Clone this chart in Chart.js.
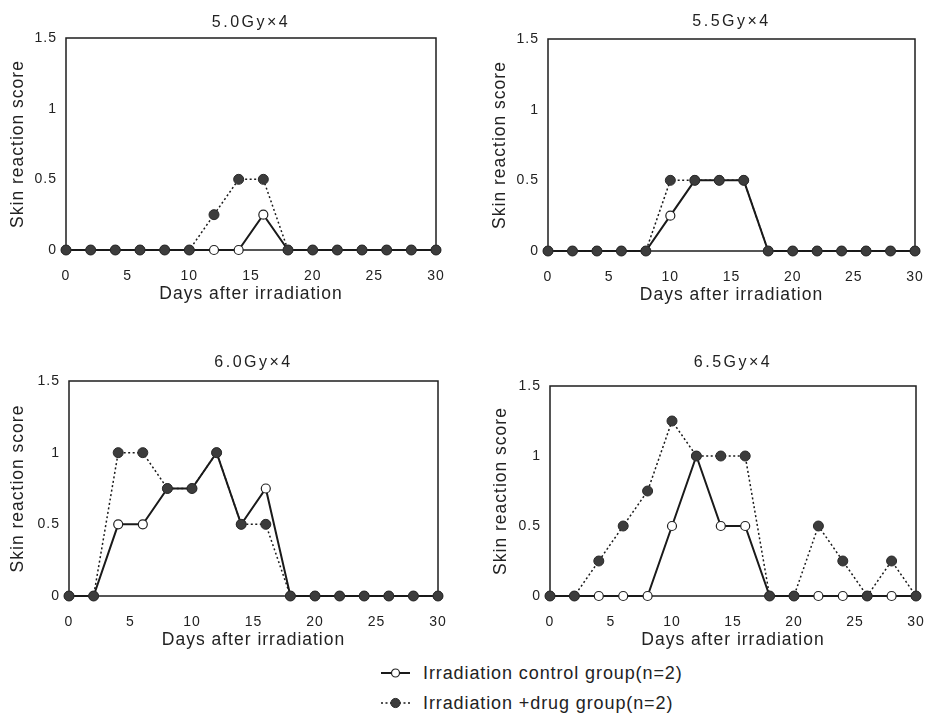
<!DOCTYPE html>
<html>
<head>
<meta charset="utf-8">
<script src="https://cdn.jsdelivr.net/npm/chart.js@4.4.1/dist/chart.umd.min.js"></script>
<style>
body{margin:0;background:#fff;width:926px;height:714px;position:relative;overflow:hidden;font-family:"Liberation Sans",Arial,sans-serif;}
canvas{position:absolute;}
#legend{position:absolute;left:381px;top:658px;font-size:18px;letter-spacing:0.9px;color:#222;}
.row{height:30px;display:flex;align-items:center;white-space:nowrap;}
.row svg{margin-right:13px;}
</style>
</head>
<body>
<canvas id="c0" width="463" height="310" style="left:0;top:0"></canvas>
<canvas id="c1" width="463" height="311" style="left:463px;top:0"></canvas>
<canvas id="c2" width="463" height="336" style="left:0;top:320px"></canvas>
<canvas id="c3" width="463" height="336" style="left:463px;top:320px"></canvas>

<div id="legend">
  <div class="row">
    <svg width="29" height="12"><line x1="0" y1="6" x2="29" y2="6" stroke="#1a1a1a" stroke-width="2"/><circle cx="14.5" cy="6" r="4" fill="#fff" stroke="#222" stroke-width="1.2"/></svg>
    <span>Irradiation control group(n=2)</span>
  </div>
  <div class="row">
    <svg width="29" height="12"><line x1="0" y1="6" x2="29" y2="6" stroke="#1a1a1a" stroke-width="1.5" stroke-dasharray="2,2.5"/><circle cx="14.5" cy="6" r="4.6" fill="#3c3c3c" stroke="#2a2a2a" stroke-width="1"/></svg>
    <span>Irradiation +drug group(n=2)</span>
  </div>
</div>

<script>
var days = [0,2,4,6,8,10,12,14,16,18,20,22,24,26,28,30];
var titles = ['5.0Gy\u00d74','5.5Gy\u00d74','6.0Gy\u00d74','6.5Gy\u00d74'];

var control50 = [0,0,0,0,0,0,0,0,0.25,0,0,0,0,0,0,0];
var drug50    = [0,0,0,0,0,0,0.25,0.5,0.5,0,0,0,0,0,0,0];
var control55 = [0,0,0,0,0,0.25,0.5,0.5,0.5,0,0,0,0,0,0,0];
var drug55    = [0,0,0,0,0,0.5,0.5,0.5,0.5,0,0,0,0,0,0,0];
var control60 = [0,0,0.5,0.5,0.75,0.75,1,0.5,0.75,0,0,0,0,0,0,0];
var drug60    = [0,0,1,1,0.75,0.75,1,0.5,0.5,0,0,0,0,0,0,0];
var control65 = [0,0,0,0,0,0.5,1,0.5,0.5,0,0,0,0,0,0,0];
var drug65    = [0,0,0.25,0.5,0.75,1.25,1,1,1,0,0,0.5,0.25,0,0.25,0];

var yTicks = [0,0.5,1,1.5];
var xTicks = [0,5,10,15,20,25,30];

var textColor = '#222';

// box around plot + panel title over plot area
var framePlugin = {
    id: 'frame',
    beforeDraw: function(chart){
        chart.ctx.letterSpacing = '1px';
    },
    beforeDatasetsDraw: function(chart){
        var a = chart.chartArea, ctx = chart.ctx;
        ctx.save();
        ctx.strokeStyle = '#1e1e1e';
        ctx.lineWidth = 1.5;
        ctx.strokeRect(a.left, a.top, a.right - a.left, a.bottom - a.top);
        ctx.restore();
    },
    afterDraw: function(chart){
        var a = chart.chartArea, ctx = chart.ctx;
        var o = chart.options.plugins.frame;
        ctx.save();
        ctx.letterSpacing = '2.5px';
        ctx.font = '16px "Liberation Sans", Arial, sans-serif';
        ctx.fillStyle = textColor;
        ctx.textAlign = 'center';
        ctx.textBaseline = 'middle';
        ctx.fillText(o.title, (a.left + a.right) / 2, a.top - o.titleGap);
        ctx.restore();
    }
};

function toPoints(vals){
    return days.map(function(d, i){ return {x: d, y: vals[i]}; });
}

function makeChart(id, title, control, drug, g){
    var ctx = document.getElementById(id);
    return new Chart(ctx, {
        type: 'line',
        data: {
            datasets: [{
                label: 'Irradiation +drug group(n=2)',
                data: toPoints(drug),
                order: 0,
                borderColor: '#1a1a1a',
                borderWidth: 1.5,
                borderDash: [2, 2.5],
                pointRadius: 5,
                pointBackgroundColor: '#3c3c3c',
                pointBorderColor: '#2a2a2a',
                pointBorderWidth: 1,
                tension: 0,
                clip: false
            }, {
                label: 'Irradiation control group(n=2)',
                data: toPoints(control),
                order: 1,
                borderColor: '#1a1a1a',
                borderWidth: 2,
                pointRadius: 4.5,
                pointBackgroundColor: '#ffffff',
                pointBorderColor: '#222222',
                pointBorderWidth: 1.2,
                tension: 0,
                clip: false
            }]
        },
        options: {
            responsive: false,
            animation: false,
            events: [],
            layout: {
                autoPadding: false,
                padding: {top: g.pt, right: g.pr, left: 0, bottom: 0}
            },
            plugins: {
                legend: {display: false},
                tooltip: {enabled: false},
                frame: {title: title, titleGap: g.tg}
            },
            scales: {
                x: {
                    type: 'linear',
                    min: 0,
                    max: 30,
                    afterFit: function(s){ s.height = 60; s.paddingLeft = 0; s.paddingRight = 0; },
                    afterBuildTicks: function(s){ s.ticks = xTicks.map(function(v){ return {value: v}; }); },
                    grid: {display: false, drawTicks: false},
                    border: {display: false},
                    ticks: {
                        padding: 18,
                        color: textColor,
                        maxRotation: 0,
                        font: {family: '"Liberation Sans", Arial, sans-serif', size: 14}
                    },
                    title: {
                        display: true,
                        text: 'Days after irradiation',
                        color: textColor,
                        padding: {top: 0, bottom: 5.5},
                        font: {family: '"Liberation Sans", Arial, sans-serif', size: 17.5}
                    }
                },
                y: {
                    min: 0,
                    max: 1.5,
                    afterFit: function(s){ s.width = g.yw; s.paddingTop = 0; s.paddingBottom = 0; },
                    afterBuildTicks: function(s){ s.ticks = yTicks.map(function(v){ return {value: v}; }); },
                    grid: {display: false, drawTicks: false},
                    border: {display: false},
                    ticks: {
                        padding: 9,
                        color: textColor,
                        callback: function(v){ return String(v); },
                        font: {family: '"Liberation Sans", Arial, sans-serif', size: 14}
                    },
                    title: {
                        display: true,
                        text: 'Skin reaction score',
                        color: textColor,
                        padding: {top: g.ytp, bottom: 0},
                        font: {family: '"Liberation Sans", Arial, sans-serif', size: 17.5}
                    }
                }
            }
        },
        plugins: [framePlugin]
    });
}

makeChart('c0', titles[0], control50, drug50, {pt: 38, pr: 27, yw: 66, ytp: 7.5, tg: 15});
makeChart('c1', titles[1], control55, drug55, {pt: 39, pr: 11, yw: 85, ytp: 26.5, tg: 17});
makeChart('c2', titles[2], control60, drug60, {pt: 61, pr: 25, yw: 69, ytp: 7.5, tg: 18});
makeChart('c3', titles[3], control65, drug65, {pt: 66, pr: 10, yw: 87, ytp: 27.5, tg: 23});
</script>
</body>
</html>
